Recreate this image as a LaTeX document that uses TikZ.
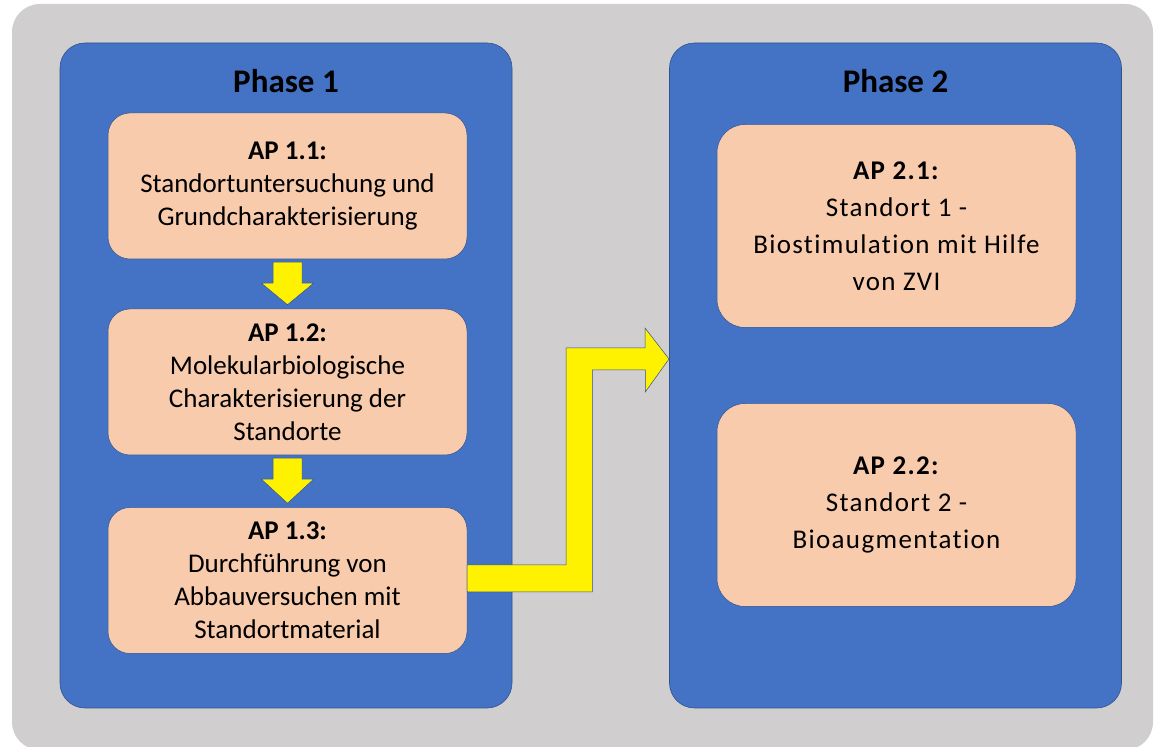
\documentclass[tikz,border=0pt]{standalone}
\usepackage{fontspec}
\setmainfont{Carlito}[Ligatures=NoCommon]
\newfontfamily\spacedfont[LetterSpace=5, Ligatures=NoCommon]{Carlito}
\usepackage{xcolor}
\usepackage{tikz}
\usetikzlibrary{calc}

\definecolor{bggray}{HTML}{D0CECE}
\definecolor{phaseblue}{HTML}{4472C4}
\definecolor{edgeblue}{HTML}{2F528F}
\definecolor{peach}{HTML}{F8CBAD}

\begin{document}
\begin{tikzpicture}[x=1pt, y=1pt,
    phase/.style={draw=edgeblue, line width=0.6pt, fill=phaseblue, rounded corners=25pt,
        minimum width=452pt, minimum height=665pt, inner sep=0pt},
    phasetitle/.style={inner sep=0pt, font=\fontsize{33}{40}\selectfont\bfseries},
    task/.style={draw=edgeblue, line width=0.5pt, fill=peach, rounded corners=22pt,
        minimum width=359pt, minimum height=146pt, inner sep=0pt, align=center,
        font=\fontsize{27}{33}\selectfont},
    tasktwo/.style={task, rounded corners=28pt, minimum height=203pt,
        font=\spacedfont\fontsize{27}{37}\selectfont},
    pfeil/.style={draw=edgeblue, line width=0.5pt, fill=yellow}]
    
    % Background
    \useasboundingbox (0,0) rectangle (1155,746);
    \fill[bggray, rounded corners=28pt] (12,-4) rectangle (1153,742);
    
    % Nodes
    \node[phase] (phase1) at (286,370.5) {};
    \node[phase] (phase2) at (895.5,370.5) {};
    \node[phasetitle] (title1) at (286,664.5) {Phase 1};
    \node[phasetitle] (title2) at (895.5,664.5) {Phase 2};
    \node[task] (ap11) at (287.5,560) {\textbf{AP 1.1:}\\Standortuntersuchung und\\Grundcharakterisierung};
    \node[task] (ap12) at (287.5,364) {\textbf{AP 1.2:}\\Molekularbiologische\\Charakterisierung der\\Standorte};
    \node[task] (ap13) at (287.5,165.5) {\textbf{AP 1.3:}\\Durchführung von\\Abbauversuchen mit\\Standortmaterial};
    \node[tasktwo] (ap21) at (896.5,520) {\textbf{AP 2.1:}\\Standort 1 -\\Biostimulation mit Hilfe\\von ZVI};
    \node[tasktwo] (ap22) at (896.5,241) {\textbf{AP 2.2:}\\Standort 2 -\\Bioaugmentation};
    \coordinate (ziel) at (669,387);
    
    % Edges
    \draw[pfeil] ($(ap11.south)+(-14.5,-3)$) -- ($(ap11.south)+(14.5,-3)$) -- ($(ap11.south)+(14.5,-24)$)
        -- ($(ap11.south)+(26,-24)$) -- ($(ap12.north)+(0,4)$) -- ($(ap11.south)+(-26,-24)$)
        -- ($(ap11.south)+(-14.5,-24)$) -- cycle;
    \draw[pfeil] ($(ap12.south)+(-14.5,-3)$) -- ($(ap12.south)+(14.5,-3)$) -- ($(ap12.south)+(14.5,-24)$)
        -- ($(ap12.south)+(26,-24)$) -- ($(ap13.north)+(0,4)$) -- ($(ap12.south)+(-26,-24)$)
        -- ($(ap12.south)+(-14.5,-24)$) -- cycle;
    \draw[pfeil] ($(ap13.east)+(0,-11.5)$) -- ++(125,0) -- ++(0,222) -- ++(53,0) -- ++(0,-22)
        -- (ziel) -- ++(-24,31) -- ++(0,-20) -- ++(-79,0) -- ++(0,-217) -- ++(-99,0) -- cycle;
\end{tikzpicture}
\end{document}
